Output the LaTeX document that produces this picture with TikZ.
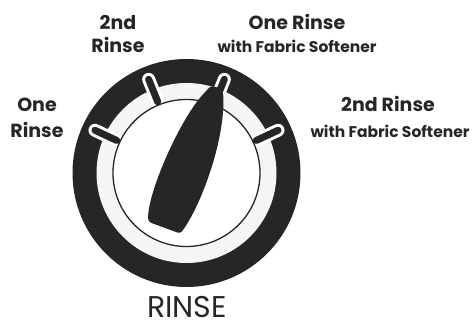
\documentclass[tikz,border=0pt]{standalone}
\usepackage{fontspec}
\setmainfont{Poppins}
\begin{document}
\begin{tikzpicture}[x=1pt,y=1pt,
  lbl/.style={font=\bfseries\fontsize{19}{22}\selectfont,text=black!85,anchor=base,inner sep=0pt},
  sublbl/.style={font=\bfseries\fontsize{15.5}{18}\selectfont,text=black!85,anchor=base,inner sep=0pt},
  dialtitle/.style={font=\fontsize{30}{36}\selectfont,text=black!85,anchor=base,inner sep=0pt,text depth=0pt},
  tickmark/.style={line width=#1,line cap=round}]
\useasboundingbox (0,0) rectangle (472,326);
\coordinate (c) at (186.5,153);
% dial rings
\fill[black!85] (c) circle (114);
\fill[black!4] (c) circle (90);
% setting marks
\foreach \a in {25,68,112,155} {
   \draw[white,tickmark=13pt] ([shift={(\a:76)}]c) -- ([shift={(\a:101)}]c);
}
\fill[white] (c) circle (73.5);
\foreach \a in {25,68,112,155} {
   \draw[black!85,tickmark=7pt] ([shift={(\a:77)}]c) -- ([shift={(\a:101)}]c);
}
\draw[black!85,line width=1.3pt] (c) circle (73.5);
% knob pointer
\begin{scope}[shift={(c)},rotate=70]
   \fill[black!85,rounded corners=3pt] (-59,-15)
      .. controls (-25,-25) and (45,-25) .. (88,-7)
      .. controls (92,-3) and (91,7) .. (85,9)
      .. controls (50,25) and (-35,30) .. (-59,19) -- cycle;
\end{scope}
% labels
\node[lbl] (r2a) at (118,296) {2nd};
\node[lbl] (r2b) at (118,273) {Rinse};
\node[lbl] (r1fa) at (297,296) {One Rinse};
\node[sublbl] (r1fb) at (297,273) {with Fabric Softener};
\node[lbl] (r1a) at (37,214) {One};
\node[lbl] (r1b) at (37,188) {Rinse};
\node[lbl] (r2fa) at (388,214) {2nd Rinse};
\node[sublbl] (r2fb) at (390,188) {with Fabric Softener};
\node[dialtitle] (title) at (187,8) {RINSE};
\end{tikzpicture}
\end{document}
